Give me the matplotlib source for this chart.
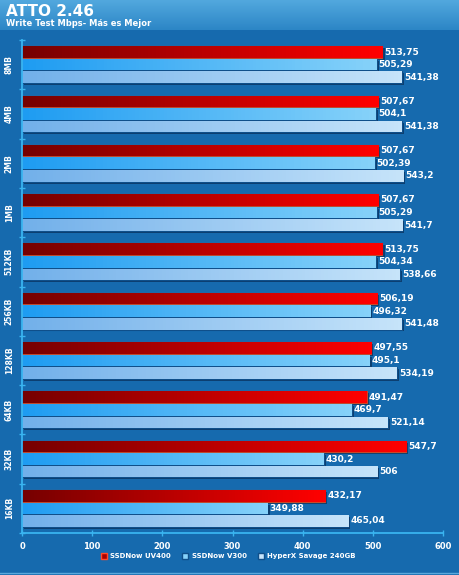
import numpy as np
import matplotlib.pyplot as plt
from matplotlib.colors import LinearSegmentedColormap
from matplotlib.lines import Line2D

# datos del gráfico (de arriba a abajo)
categorias = ['8MB', '4MB', '2MB', '1MB', '512KB', '256KB', '128KB', '64KB', '32KB', '16KB']
uv400 = [513.75, 507.67, 507.67, 507.67, 513.75, 506.19, 497.55, 491.47, 547.7, 432.17]
v300 = [505.29, 504.1, 502.39, 505.29, 504.34, 496.32, 495.1, 469.7, 430.2, 349.88]
hyperx = [541.38, 541.38, 543.2, 541.7, 538.66, 541.48, 534.19, 521.14, 506, 465.04]
series = ['SSDNow UV400', 'SSDNow V300', 'HyperX Savage 240GB']
xticks = [0, 100, 200, 300, 400, 500, 600]

fondo = '#166aae'
# colores de cada serie: inicio del degradado, final, borde
estilos = [
    ('#760000', '#ff0000', '#c84a2a'),
    ('#1e9cf2', '#86d2fa', '#0f4f8a'),
    ('#72b0ea', '#c6e4fa', '#0f4f8a'),
]

fig = plt.figure(figsize=(4.59, 5.75), dpi=100)
fig.patch.set_facecolor(fondo)

# banda del título con degradado
banda = fig.add_axes([0, 1 - 30 / 575, 1, 30 / 575])
grad = np.linspace(0, 1, 50).reshape(-1, 1)
banda.imshow(grad, aspect='auto', extent=[0, 1, 0, 1],
             cmap=LinearSegmentedColormap.from_list('b', ['#52a8de', '#2c86c6']))
banda.axis('off')
fig.text(0.012, 1 - 12 / 575, 'ATTO 2.46', color='white', fontsize=11,
         fontweight='bold', va='center')
fig.text(0.012, 1 - 24 / 575, 'Write Test Mbps- Más es Mejor', color='white',
         fontsize=6, fontweight='bold', va='center')

ax = fig.add_axes([22 / 459, 1 - 533 / 575, 421 / 459, 493 / 575])
ax.set_facecolor(fondo)

y = np.arange(len(categorias))
offsets = [-0.255, 0.0, 0.255]
alto = 0.235
valores = [uv400, v300, hyperx]

for s, (vals, off, (c0, c1, borde)) in enumerate(zip(valores, offsets, estilos)):
    cmap = LinearSegmentedColormap.from_list('g%d' % s, [c0, c1])
    # sombra
    ax.barh(y + off + 0.04, vals, height=alto, left=3, color='#0c3f70',
            edgecolor='none', zorder=1)
    barras = ax.barh(y + off, vals, height=alto, color=c1, edgecolor=borde,
                     linewidth=0.8, zorder=2)
    for b, v in zip(barras, vals):
        x0, y0 = b.get_x(), b.get_y()
        im = ax.imshow(np.linspace(0, 1, 100).reshape(1, -1), cmap=cmap,
                       aspect='auto', extent=[x0, x0 + b.get_width(), y0 + alto, y0],
                       zorder=2.5)
        im.set_clip_path(b)
        ax.text(v + 3, y0 + alto / 2, ('%g' % v).replace('.', ','), color='white',
                fontsize=6.5, fontweight='bold', va='center', ha='left', zorder=4)

ax.set_xlim(0, 600)
ax.set_ylim(len(categorias) - 0.5, -0.5)
ax.set_xticks(xticks)
ax.set_xticklabels([str(t) for t in xticks], color='white', fontsize=6, fontweight='bold')
ax.set_yticks(y)
ax.set_yticklabels(categorias, rotation=90, va='center', color='white',
                   fontsize=5.5, fontweight='bold')
ax.set_yticks(np.arange(-0.5, len(categorias), 1), minor=True)
ax.tick_params(axis='y', which='major', length=0, pad=6)
ax.tick_params(axis='y', which='minor', length=4, color='#39b4f0', direction='inout', width=1)
ax.tick_params(axis='x', length=5, color='#39b4f0', direction='inout', width=1, pad=4)
for lado in ['top', 'right']:
    ax.spines[lado].set_visible(False)
for lado in ['left', 'bottom']:
    ax.spines[lado].set_color('#39b4f0')
    ax.spines[lado].set_linewidth(1.3)

handles = [Line2D([], [], marker='s', linestyle='none', markersize=4.5,
                  markerfacecolor=c1, markeredgecolor=borde if s else '#ff4a2a')
           for s, (c0, c1, borde) in enumerate(estilos)]
handles[0].set_markerfacecolor('#a80000')
fig.legend(handles, series, loc='center', bbox_to_anchor=(0.497, 1 - 556 / 575),
           ncol=3, frameon=False, handletextpad=0.4, columnspacing=1.6,
           handlelength=1.0, prop={'weight': 'bold', 'size': 5}, labelcolor='white')

fig.add_artist(Line2D([0, 1], [2 / 575, 2 / 575], color='#5aa8dc', linewidth=1))

fig.savefig('out.png', dpi=100, facecolor=fig.get_facecolor())
